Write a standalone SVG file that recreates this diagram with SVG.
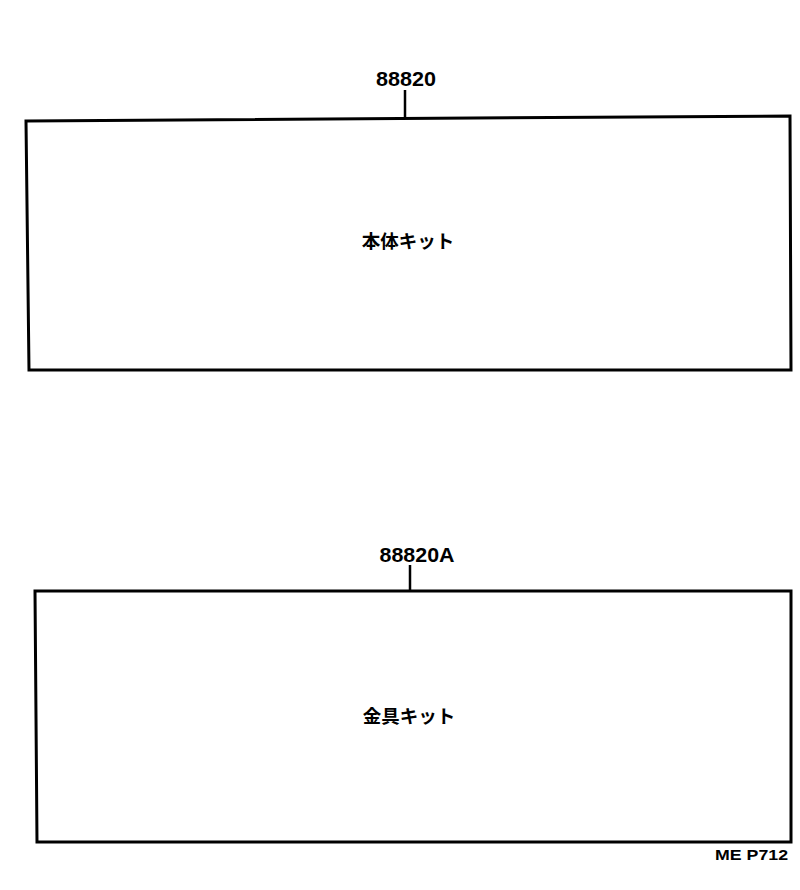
<svg xmlns="http://www.w3.org/2000/svg" width="800" height="890" viewBox="0 0 800 890">
<style>
.box{fill:none;stroke:#000;stroke-width:3}
.lead{stroke:#000;stroke-width:2.5}
.num{font-family:"Liberation Sans",Arial,sans-serif;font-size:20px;font-weight:bold;fill:#000}
.jp{font-family:"Noto Sans CJK JP","Noto Sans CJK SC",sans-serif;font-size:18.5px;font-weight:bold;fill:#000}
.code{font-family:"Liberation Sans",Arial,sans-serif;font-size:15px;font-weight:bold;fill:#000}
</style>
<rect width="800" height="890" fill="#fff"/>
<g id="node-88820">
<polygon class="box" points="26,121 790,116 791,370 29,370"/>
<text class="jp" x="408" y="248" text-anchor="middle">本体キット</text>
</g>
<g id="node-88820A">
<polygon class="box" points="35,591 791,591 791,842 37,842"/>
<text class="jp" x="409" y="723" text-anchor="middle">金具キット</text>
</g>
<g id="connectors">
<line class="lead" x1="405" y1="90" x2="405" y2="118"/>
<line class="lead" x1="410" y1="565" x2="410" y2="590"/>
<text class="num" x="406" y="86" text-anchor="middle" textLength="60" lengthAdjust="spacingAndGlyphs">88820</text>
<text class="num" x="417" y="562" text-anchor="middle" textLength="75" lengthAdjust="spacingAndGlyphs">88820A</text>
</g>
<text class="code" x="715" y="860" textLength="73" lengthAdjust="spacingAndGlyphs">ME  P712</text>
</svg>
